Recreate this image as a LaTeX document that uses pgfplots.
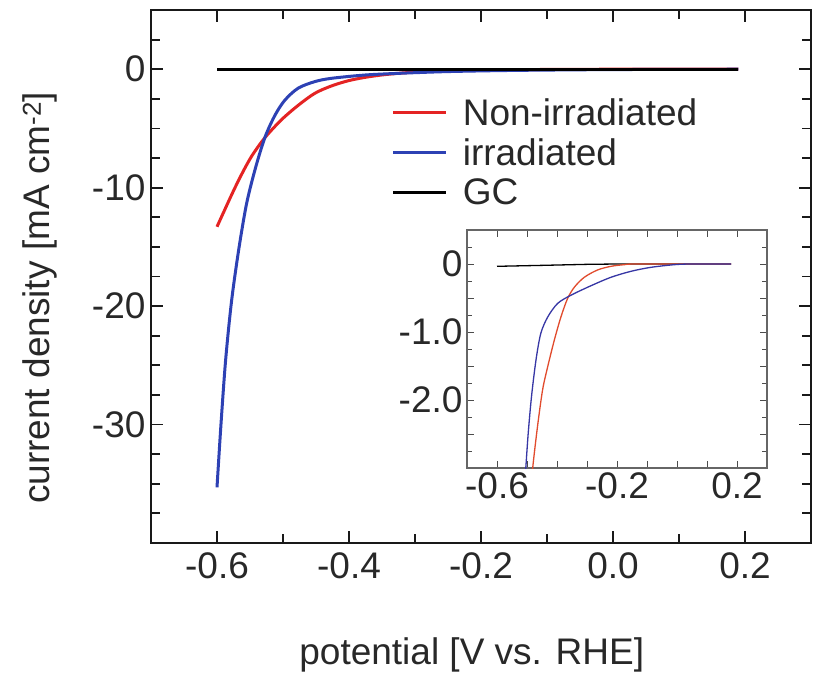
\documentclass[border=0pt]{standalone}
\usepackage{fontspec}
\setmainfont{Liberation Sans}
\usepackage{pgfplots}
\pgfplotsset{compat=1.18}

\definecolor{cred}{RGB}{228,35,35}
\definecolor{cblue}{RGB}{45,65,180}
\definecolor{ired}{RGB}{225,75,45}
\definecolor{iblue}{RGB}{55,55,165}
\definecolor{txt}{RGB}{40,40,40}

\newcommand{\bigf}{\fontsize{37}{44}\selectfont}

\begin{document}
\begin{tikzpicture}
% main panel
\begin{axis}[
    at={(0pt,0pt)}, anchor=south west,
    scale only axis,
    width=660pt, height=533pt,
    xmin=-0.7, xmax=0.3,
    ymin=-40, ymax=5,
    axis line style={line width=2pt, black!90},
    xtick={-0.6,-0.4,-0.2,0,0.2},
    xticklabels={-0.6,-0.4,-0.2,0.0,0.2},
    minor xtick={-0.5,-0.3,-0.1,0.1},
    ytick={-40,-30,-20,-10,0},
    yticklabels={,-30,-20,-10,0},
    minor ytick={-37.5,-35,-32.5,-27.5,-25,-22.5,-17.5,-15,-12.5,-7.5,-5,-2.5,2.5},
    tick align=inside,
    major tick length=12pt, minor tick length=9pt,
    every tick/.style={line width=1.8pt, black!90},
    tick label style={font=\bigf, text=txt},
    xticklabel style={yshift=-6pt},
    yticklabel style={xshift=-2pt},
    xlabel={potential [V vs. RHE]},
    ylabel={current density [mA cm\textsuperscript{-2}]},
    label style={font=\bigf, text=txt},
    xlabel style={at={(axis description cs:0.486,-0.21)}, anchor=center},
    ylabel style={at={(axis description cs:-0.168,0.46)}, anchor=center},
    legend style={draw=none, fill=none, font=\bigf, text=txt,
        at={(axis description cs:0.36,0.842)}, anchor=north west,
        row sep=8pt},
    legend cell align=left,
    legend image code/.code={\draw[#1] (0pt,0pt) -- (53pt,0pt); \path (66pt,0pt);},
]
\addplot[cred, line width=3pt, smooth] coordinates {
    (-0.600,-13.3) (-0.577,-10.5) (-0.562,-8.8) (-0.547,-7.3)
    (-0.527,-5.75) (-0.502,-4.25) (-0.477,-3.05) (-0.452,-2.04)
    (-0.427,-1.42) (-0.401,-0.97) (-0.376,-0.69) (-0.351,-0.49)
    (-0.326,-0.35) (-0.300,-0.24) (-0.266,-0.15) (-0.200,-0.06)
    (-0.100,-0.02) (0.000,0) (0.190,0)
};
\addplot[cblue, line width=3pt, smooth] coordinates {
    (-0.600,-35.3) (-0.594,-30.0) (-0.587,-24.6) (-0.578,-19.6)
    (-0.567,-15.2) (-0.555,-11.3) (-0.541,-8.2) (-0.527,-5.7)
    (-0.512,-3.87) (-0.497,-2.6) (-0.477,-1.6) (-0.452,-1.05)
    (-0.427,-0.77) (-0.376,-0.49) (-0.326,-0.35) (-0.251,-0.20)
    (-0.150,-0.10) (0.000,-0.03) (0.190,0)
};
\addplot[black, line width=2.6pt] coordinates {(-0.600,0) (0.190,0)};
\legend{Non-irradiated, irradiated, GC}
\end{axis}

% inset
\begin{axis}[
    at={(316pt,75pt)}, anchor=south west,
    scale only axis,
    width=300pt, height=238pt,
    xmin=-0.7, xmax=0.3,
    ymin=-3, ymax=0.5,
    axis background/.style={fill=white},
    axis line style={line width=1.2pt, black!60},
    xtick={-0.6,-0.5,...,0.2},
    xticklabels={-0.6,,,,-0.2,,,,0.2},
    ytick={-3,-2.5,...,0.5},
    yticklabels={,,-2.0,,-1.0,,0,},
    minor ytick={-2.75,-2.25,-1.75,-1.25,-0.75,-0.25,0.25},
    tick align=inside,
    major tick length=7pt, minor tick length=5pt,
    every tick/.style={line width=1pt, black!70},
    tick label style={font=\bigf, text=txt},
    xticklabel style={yshift=-1pt},
    yticklabel style={xshift=-1pt},
]
\addplot[black, line width=1.3pt] coordinates {
    (-0.600,-0.034) (-0.450,-0.02) (-0.300,-0.005) (-0.200,0) (0.180,0)
};
\addplot[ired, line width=1.3pt, smooth] coordinates {
    (-0.490,-3.5) (-0.481,-3.0) (-0.465,-2.39) (-0.448,-1.85)
    (-0.431,-1.51) (-0.409,-1.12) (-0.387,-0.78) (-0.365,-0.51)
    (-0.342,-0.34) (-0.309,-0.195) (-0.265,-0.088) (-0.220,-0.034)
    (-0.176,-0.01) (-0.131,0) (0.180,0)
};
\addplot[iblue, line width=1.3pt, smooth] coordinates {
    (-0.512,-3.5) (-0.504,-3.0) (-0.496,-2.49) (-0.485,-1.95)
    (-0.470,-1.41) (-0.454,-1.02) (-0.431,-0.78) (-0.398,-0.58)
    (-0.354,-0.46) (-0.287,-0.32) (-0.220,-0.195) (-0.153,-0.107)
    (-0.087,-0.049) (-0.009,-0.01) (0.047,0) (0.180,0)
};
\end{axis}

\pgfresetboundingbox
\path[use as bounding box] (-151pt,-135pt) rectangle (662pt,543pt);
\end{tikzpicture}
\end{document}
